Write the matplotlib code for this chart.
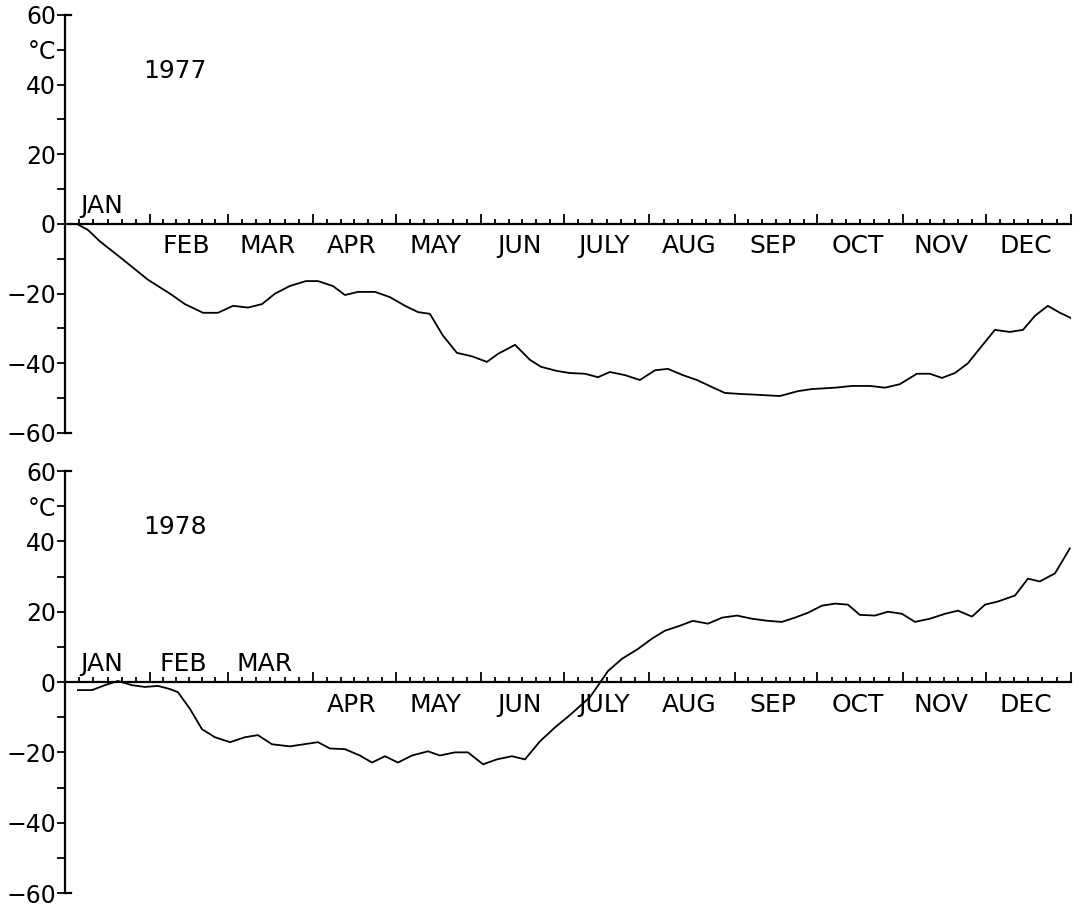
import numpy as np
import matplotlib
matplotlib.use('Agg')
import matplotlib.pyplot as plt
from matplotlib.ticker import FixedLocator, FixedFormatter

plt.rcParams['font.family'] = ['DejaVu Sans']

# day of year / temperature (deg C)
days_1977 = [4.4, 8.3, 12.7, 20.7, 30.1, 38.1, 43.5, 50.1, 55.5, 61.0, 66.4, 71.5,
             76.2, 81.6, 87.4, 91.8, 97.2, 101.6, 106.3, 112.5, 117.9, 123.4, 128.1,
             132.4, 137.1, 142.2, 147.7, 153.1, 157.1, 163.3, 168.7, 172.7, 178.5,
             183.2, 188.7, 193.4, 197.7, 203.2, 208.6, 214.1, 218.8, 224.2, 229.3,
             234.7, 239.4, 244.9, 250.3, 259.4, 265.9, 271.0, 279.4, 285.5, 292.1,
             297.5, 302.9, 309.1, 313.8, 318.2, 322.9, 327.6, 333.0, 337.4, 342.8,
             347.6, 351.9, 356.6, 361.0, 365.0]
temp_1977 = [0, -1.7, -5, -10, -16, -20, -23, -25.5, -25.5, -23.5, -24, -23,
             -20, -17.8, -16.4, -16.4, -17.8, -20.4, -19.5, -19.5, -21, -23.5, -25.3,
             -25.8, -32, -37, -38, -39.6, -37.3, -34.7, -39, -41, -42.2,
             -42.8, -43, -44, -42.5, -43.4, -44.8, -42, -41.6, -43.4, -44.8,
             -46.8, -48.5, -48.8, -49, -49.4, -48, -47.4, -47, -46.5, -46.5,
             -47, -46, -43, -43, -44.2, -42.8, -40, -34.7, -30.4, -31,
             -30.4, -26.4, -23.5, -25.5, -27]

days_1978 = [4.7, 9.8, 14.5, 19.2, 24.3, 29.0, 33.7, 38.1, 41.0, 45.4, 49.7, 54.4,
             59.9, 65.3, 70.0, 75.1, 81.6, 91.8, 96.1, 101.6, 107.0, 111.4, 116.1,
             120.8, 125.9, 131.7, 136.0, 141.5, 146.2, 151.7, 156.7, 162.2, 166.9,
             172.3, 177.8, 183.2, 190.5, 197.0, 202.1, 207.9, 212.9, 217.7, 223.1,
             227.8, 233.3, 238.4, 243.8, 249.3, 255.0, 260.1, 264.8, 269.6, 274.6,
             279.4, 284.1, 288.4, 293.9, 298.6, 303.7, 308.4, 313.8, 319.3, 324.0,
             329.1, 333.8, 338.5, 344.7, 349.4, 353.7, 359.2, 364.6]
temp_1978 = [-2.3, -2.3, -0.9, 0.3, -0.9, -1.4, -1.1, -2, -2.9, -7.7, -13.4, -15.7,
             -17.1, -15.7, -15.1, -17.7, -18.3, -17.1, -18.9, -19.1, -20.9, -22.9, -21.1,
             -22.9, -20.9, -19.7, -20.9, -20, -20, -23.4, -22, -21.1, -22,
             -16.9, -12.9, -9.4, -4.3, 3.1, 6.6, 9.4, 12.3, 14.6, 16,
             17.4, 16.6, 18.3, 18.9, 18, 17.4, 17.1, 18.3, 19.7, 21.7,
             22.3, 22, 19.1, 18.9, 20, 19.4, 17.1, 18, 19.4, 20.3,
             18.6, 22, 22.9, 24.6, 29.4, 28.6, 30.9, 38]

months = ['JAN', 'FEB', 'MAR', 'APR', 'MAY', 'JUN', 'JULY', 'AUG', 'SEP', 'OCT', 'NOV', 'DEC']
month_len = [31, 28, 31, 30, 31, 30, 31, 31, 30, 31, 30, 31]
yticks = [-60, -50, -40, -30, -20, -10, 0, 10, 20, 30, 40, 50, 60]
ylabels = ['\u221260', '', '\u221240', '', '\u221220', '', '0', '', '20', '', '40', '\u00b0C', '60']

month_start = np.concatenate([[0], np.cumsum(month_len)])
month_mid = (month_start[:-1] + month_start[1:]) / 2
minor = []
for a, b in zip(month_start[:-1], month_start[1:]):
    minor.extend(np.linspace(a, b, 7)[1:-1])

fig = plt.figure(figsize=(10.81, 9.09), dpi=100)
ax1 = fig.add_axes([0.0601, 0.5237, 0.9306, 0.4598])
ax2 = fig.add_axes([0.0601, 0.0176, 0.9306, 0.4642])


def setup(ax, year, days, temps, n_above):
    ax.plot(days, temps, color='k', lw=1.3)
    ax.set_xlim(0, 365)
    ax.set_ylim(-60, 60)
    for s in ['top', 'right']:
        ax.spines[s].set_visible(False)
    ax.spines['left'].set_linewidth(1.6)
    ax.spines['bottom'].set_position(('data', 0))
    ax.spines['bottom'].set_linewidth(1.6)
    ax.xaxis.set_major_locator(FixedLocator(month_start))
    ax.xaxis.set_minor_locator(FixedLocator(minor))
    ax.tick_params(axis='x', which='major', direction='in', length=7, width=1.3, labelbottom=False)
    ax.tick_params(axis='x', which='minor', direction='in', length=3.5, width=1.3)
    ax.yaxis.set_major_locator(FixedLocator(yticks))
    ax.yaxis.set_major_formatter(FixedFormatter(ylabels))
    ax.tick_params(axis='y', direction='out', length=6, width=1.3, pad=0.5, labelsize=17)
    # end caps of the temperature axis
    ax.axhline(60, xmin=0, xmax=0.006, color='k', lw=1.6, clip_on=False)
    ax.axhline(-60, xmin=0, xmax=0.006, color='k', lw=1.6, clip_on=False)
    for i, (m, x) in enumerate(zip(months, month_mid)):
        if i < n_above:
            ax.text(x - 2, 1.8, m, ha='center', va='bottom', fontsize=18)
        else:
            ax.text(x - 1, -3.0, m, ha='center', va='top', fontsize=18)
    ax.text(40, 44, year, ha='center', va='center', fontsize=18)


setup(ax1, '1977', days_1977, temp_1977, 1)
setup(ax2, '1978', days_1978, temp_1978, 3)

fig.savefig('out.png', dpi=100)
